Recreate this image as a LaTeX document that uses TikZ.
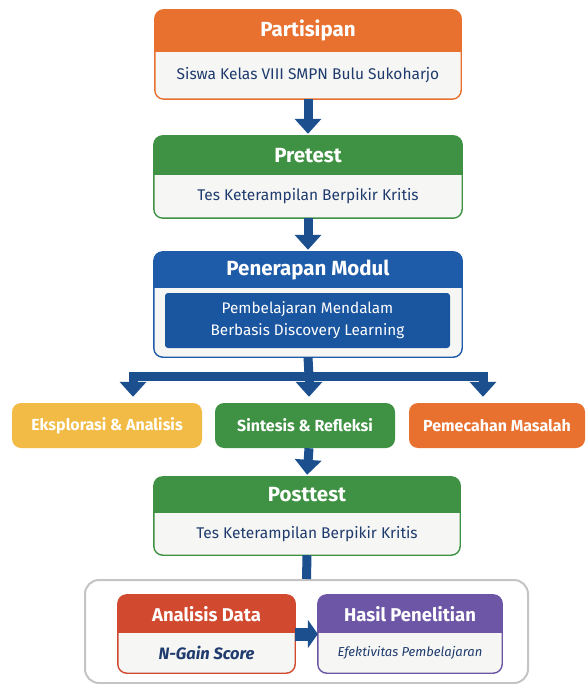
\documentclass[tikz,border=0pt]{standalone}
\usepackage{fontspec}
\setmainfont{Fira Sans}
\usetikzlibrary{arrows.meta,fit,calc}
\definecolor{corange}{HTML}{E8712F}
\definecolor{cgreen}{HTML}{3F9143}
\definecolor{cblue}{HTML}{1E5BA8}
\definecolor{cinner}{HTML}{1A55A0}
\definecolor{cyellow}{HTML}{F2BB45}
\definecolor{cred}{HTML}{D14A30}
\definecolor{cpurple}{HTML}{6C56A5}
\definecolor{cnavy}{HTML}{1F3B6E}
\definecolor{carrow}{HTML}{1B4F8E}
\definecolor{cbody}{HTML}{F6F6F4}
\definecolor{cgrey}{HTML}{C4C4C4}
\tikzset{
  area/.style={inner sep=0pt, draw=none},
  titletext/.style={text=white, font=\bfseries\fontsize{20.5}{22}\selectfont, inner sep=1pt},
  bodytext/.style={text=cnavy, font=\fontsize{15.5}{17}\selectfont, inner sep=1pt},
  flow/.style={draw=carrow, line width=9pt, -{Triangle[length=15pt,width=26pt]}},
  bar/.style={draw=carrow, line width=9pt},
  smallbox/.style={rounded corners=9pt, text=white, minimum height=45pt,
    font=\bfseries\fontsize{16}{18}\selectfont, inner sep=2pt},
}
% name, x1, y1, x2, y2, header bottom, colour, title, body
\newcommand\headbox[9]{%
  \node[area, fit={(#2,#3) (#4,#5)}] (#1) {};
  \fill[cbody, rounded corners=9pt] (#1.south west) rectangle (#1.north east);
  \begin{scope}
    \clip[rounded corners=9pt] (#1.south west) rectangle (#1.north east);
    \fill[#7] (#1.north west) rectangle (#4,#6);
  \end{scope}
  \draw[#7, line width=1.4pt, rounded corners=9pt] (#1.south west) rectangle (#1.north east);
  \node[titletext] (#1-t) at ($(#1.north)!0.5!(#1.north |- 0,#6)$) {#8};
  \node[bodytext] (#1-b) at ($(#1.south)!0.5!(#1.south |- 0,#6)$) {#9};
}
\begin{document}
\begin{tikzpicture}[x=1pt,y=-1pt]
\useasboundingbox (0,0) rectangle (587,684);
\fill[white] (0,0) rectangle (587,684);

\headbox{part}{155}{10}{461}{99}{52}{corange}{Partisipan}{Siswa Kelas VIII SMPN Bulu Sukoharjo}
\headbox{pre}{154}{136}{462}{218}{175}{cgreen}{Pretest}{Tes Keterampilan Berpikir Kritis}
\headbox{pen}{154}{252}{462}{357}{288}{cblue}{Penerapan Modul}{}
\node[area, fill=cinner, rounded corners=3pt, fit={(165,293) (450,348)}] (inner) {};
\node[text=white, font=\fontsize{15.3}{22}\selectfont, align=center] (inner-t) at (inner.center) {Pembelajaran Mendalam\\Berbasis Discovery Learning};

\node[smallbox, fill=cyellow, minimum width=190pt] (eks) at (107,425.5) {Eksplorasi \& Analisis};
\node[smallbox, fill=cgreen, minimum width=180pt] (sin) at (305,425.5) {Sintesis \& Refleksi};
\node[smallbox, fill=corange, minimum width=176pt] (pem) at (497,425.5) {Pemecahan Masalah};

\headbox{post}{154}{477}{460}{555}{513}{cgreen}{Posttest}{Tes Keterampilan Berpikir Kritis}

\node[area, draw=cgrey, line width=2pt, rounded corners=14pt, fit={(85,580) (528,683)}] (res) {};
\tikzset{titletext/.append style={font=\bfseries\fontsize{18.5}{20}\selectfont}}
\headbox{ana}{118}{595}{295}{673}{633}{cred}{Analisis Data}{\bfseries\itshape\fontsize{16.5}{18}\selectfont N-Gain Score}
\headbox{has}{318}{595}{502}{673}{633}{cpurple}{Hasil Penelitian}{\itshape\fontsize{13}{15}\selectfont Efektivitas Pembelajaran}

% connectors
\draw[flow, shorten >=2pt] (part.south) -- (pre.north);
\draw[flow, shorten >=2pt] (pre.south) -- (pen.north);
\coordinate (split) at (309,376);
\coordinate (dl) at (133,376);
\coordinate (dr) at (483,376);
\draw[bar] (pen.south) -- (split);
\draw[bar, line cap=rect] (dl) -- (dr);
\draw[flow, shorten >=6pt] (dl) -- (dl |- eks.north);
\draw[flow, shorten >=6pt] (split) -- (split |- sin.north);
\draw[flow, shorten >=6pt] (dr) -- (dr |- pem.north);
\draw[flow, shorten >=2pt] (sin.south -| split) -- (post.north);
\draw[bar] (post.south) -- (res.north);
\draw[draw=carrow, line width=13pt, -{Triangle[length=10pt,width=28pt]}] (ana.east) -- (has.west);
\end{tikzpicture}
\end{document}
